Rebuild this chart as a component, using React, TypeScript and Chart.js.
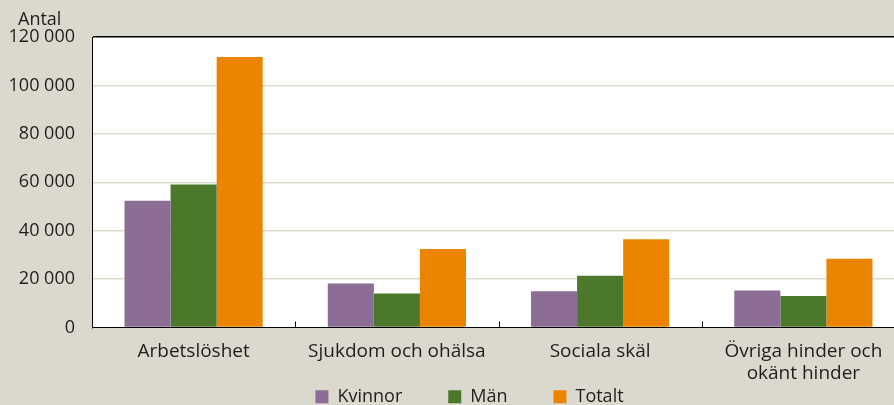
import React, { useEffect, useRef } from "react";
import { Chart, registerables } from "chart.js";

Chart.register(...registerables);

const categories: (string | string[])[] = [
  "Arbetslöshet",
  "Sjukdom och ohälsa",
  "Sociala skäl",
  ["Övriga hinder och", "okänt hinder"],
];
const kvinnor = [52400, 18200, 15000, 15300];
const man = [59100, 14000, 21400, 13000];
const totalt = [111700, 32400, 36500, 28400];
const seriesNames = ["Kvinnor", "Män", "Totalt"];
const yAxisTitle = "Antal";

const FONT = '"Open Sans", "DejaVu Sans", sans-serif';
const TEXT = "#1e1e1e";
const LEGEND_PAD = 46;
const LEGEND_ITEM_CENTER = 396.7;
const LEGEND_SHIFT_X = 13;

function fmt(v: number) {
  return String(v).replace(/\B(?=(\d{3})+(?!\d))/g, " ");
}

const plotBg = {
  id: "plotBg",
  afterLayout(chart: any) {
    const lg = chart.legend;
    if (lg) {
      const targetTop = LEGEND_ITEM_CENTER - LEGEND_PAD - 9;
      const dy = lg.top - targetTop;
      lg.top -= dy;
      lg.bottom -= dy;
      lg.left += LEGEND_SHIFT_X;
      lg.right += LEGEND_SHIFT_X;
    }
  },
  beforeDraw(chart: any) {
    const { ctx, chartArea } = chart;
    ctx.save();
    ctx.fillStyle = "#ffffff";
    ctx.fillRect(chartArea.left, chartArea.top, chartArea.right - chartArea.left, chartArea.bottom - chartArea.top);
    ctx.restore();
  },
  afterDatasetsDraw(chart: any) {
    const { ctx, chartArea } = chart;
    const xs = chart.scales.x;
    ctx.save();
    ctx.strokeStyle = "#000";
    ctx.lineWidth = 1;
    for (let i = 1; i < categories.length; i++) {
      const x = Math.round((xs.getPixelForValue(i - 1) + xs.getPixelForValue(i)) / 2) + 0.5;
      ctx.beginPath();
      ctx.moveTo(x, chartArea.bottom);
      ctx.lineTo(x, chartArea.bottom - 6);
      ctx.stroke();
    }
    ctx.restore();
  },
  afterDraw(chart: any) {
    const { ctx, chartArea } = chart;
    ctx.save();
    ctx.font = `18px ${FONT}`;
    ctx.fillStyle = TEXT;
    ctx.textAlign = "left";
    ctx.textBaseline = "middle";
    ctx.fillText(yAxisTitle, chartArea.left - 74, chartArea.top - 17);
    ctx.restore();
  },
};

export default function App() {
  const ref = useRef<HTMLCanvasElement | null>(null);
  useEffect(() => {
    if (!ref.current) return;
    const chart = new Chart(ref.current, {
      type: "bar",
      data: {
        labels: categories,
        datasets: [
          { label: seriesNames[0], data: kvinnor, backgroundColor: "#8c6d96", borderWidth: 0 },
          { label: seriesNames[1], data: man, backgroundColor: "#4b782b", borderWidth: 0 },
          { label: seriesNames[2], data: totalt, backgroundColor: "#eb8500", borderWidth: 0 },
        ],
      },
      options: {
        responsive: false,
        animation: false,
        layout: { padding: { top: 37, left: 8, right: 29, bottom: -54.5 } },
        datasets: { bar: { categoryPercentage: 0.68, barPercentage: 1.0 } },
        scales: {
          x: {
            grid: { display: false, drawTicks: false },
            border: { display: true, color: "#000", width: 1 },
            ticks: {
              color: TEXT,
              font: { family: FONT, size: 19, lineHeight: 1.15 },
              padding: 13,
              maxRotation: 0,
              autoSkip: false,
            },
            afterFit: (s: any) => { s.height = 58; },
          },
          y: {
            min: 0,
            max: 120000,
            grid: {
              drawTicks: false,
              lineWidth: 1.5,
              color: (c: any) => (c.tick && c.tick.value === 120000 ? "#000" : "#dcdacf"),
            },
            border: { display: true, color: "#000", width: 1 },
            ticks: {
              stepSize: 20000,
              color: TEXT,
              font: { family: FONT, size: 18 },
              padding: 17,
              callback: (v: any) => fmt(Number(v)),
            },
            afterFit: (s: any) => { s.width = 84; },
          },
        },
        plugins: {
          legend: {
            position: "bottom",
            labels: {
              boxWidth: 13,
              boxHeight: 13,
              padding: LEGEND_PAD,
              color: TEXT,
              font: { family: FONT, size: 18 },
            },
          },
          tooltip: { enabled: false },
          title: { display: false },
        },
      },
      plugins: [plotBg],
    });
    return () => chart.destroy();
  }, []);
  return (
    <div style={{ position: "fixed", left: 0, top: 0, width: 894, height: 405, overflow: "hidden", background: "#dbd9cd" }}>
      <canvas ref={ref} width={934} height={405} style={{ display: "block" }} />
    </div>
  );
}
